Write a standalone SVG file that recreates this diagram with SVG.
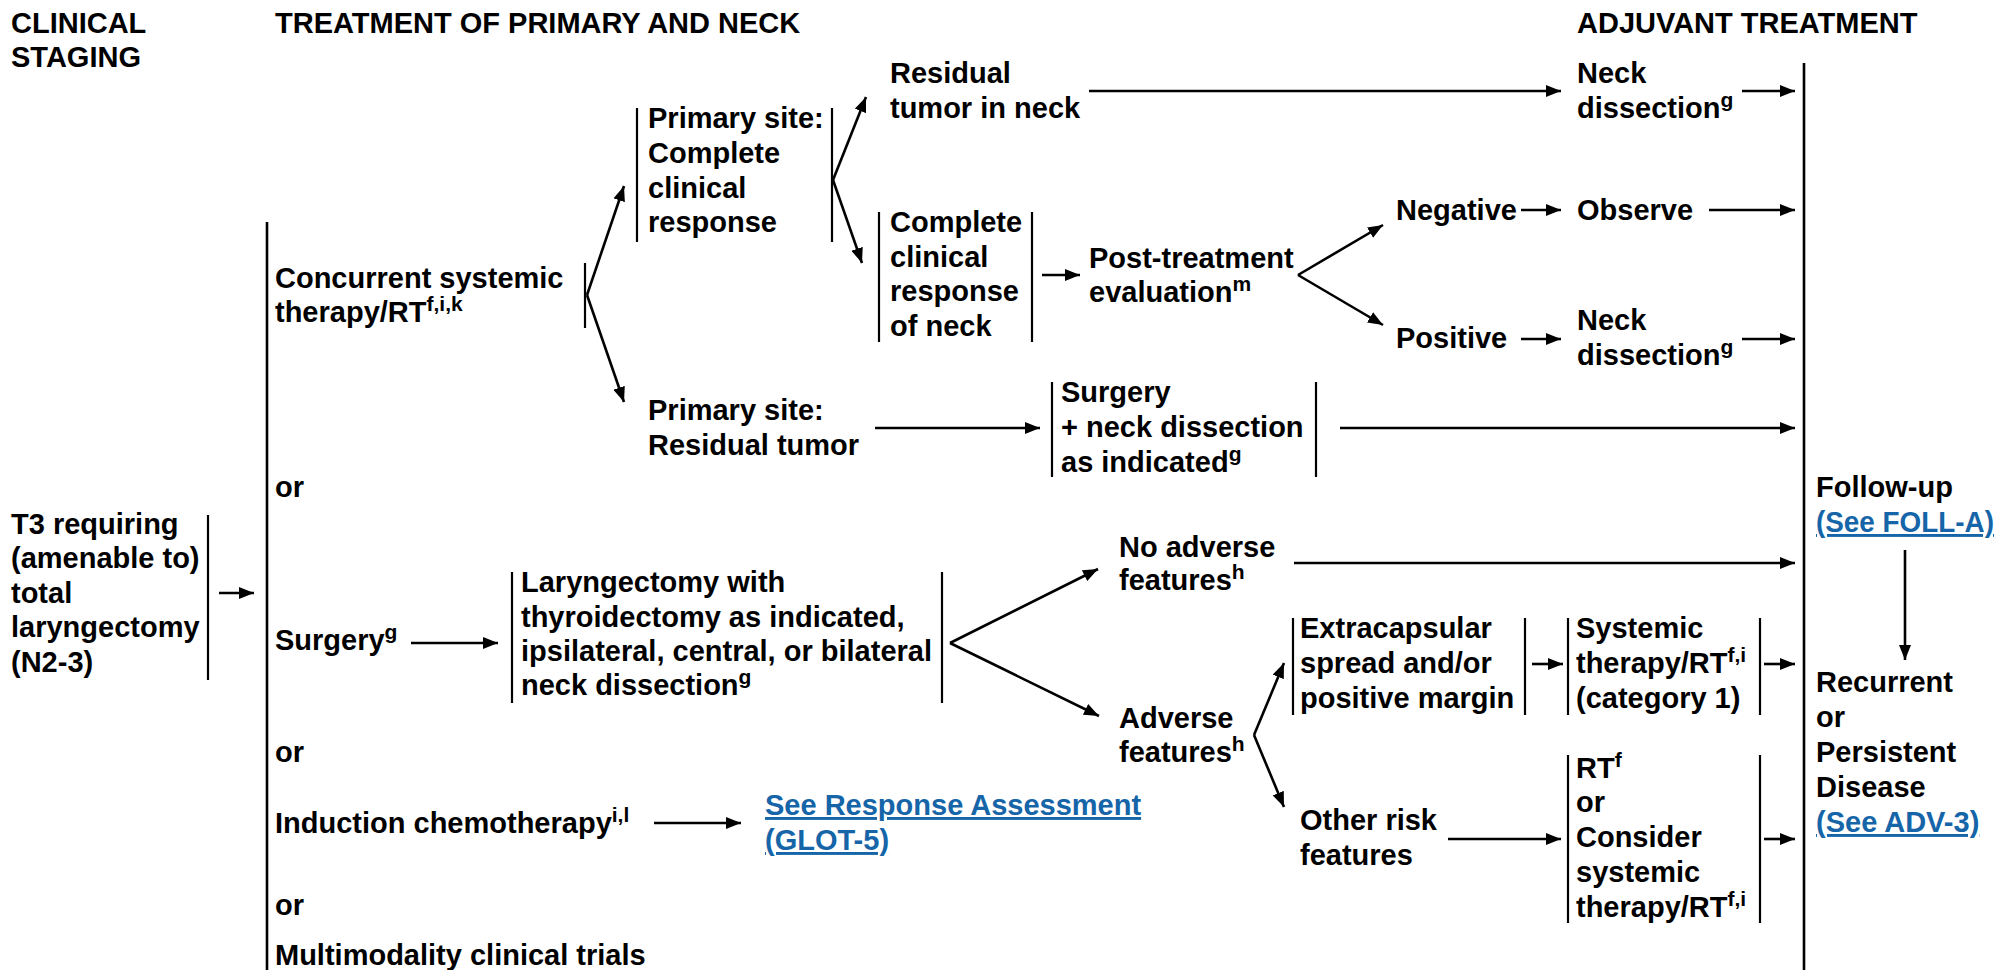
<svg xmlns="http://www.w3.org/2000/svg" width="1999" height="970" viewBox="0 0 1999 970">
  <style>
    text { font-family: "Liberation Sans", Arial, Helvetica, sans-serif; font-weight: bold; font-size: 29px; fill: #000; }
    .sup { font-size: 21px; }
    .link { fill: #1565a8; text-decoration: underline; }
    .bar { stroke: #000; stroke-width: 2.2; fill: none; }
    .trunk { stroke: #000; stroke-width: 2.6; fill: none; }
    .conn line, .conn path { stroke: #000; stroke-width: 2.6; fill: none; }
    .arr { marker-end: url(#head); }
  </style>
  <defs>
    <marker id="head" markerUnits="userSpaceOnUse" markerWidth="16" markerHeight="12" refX="15" refY="6" orient="auto">
      <path d="M0,0 L15,6 L0,12 z" fill="#000"/>
    </marker>
  </defs>

  <!-- column headings -->
  <g id="headings">
    <text x="11" y="33">CLINICAL</text>
    <text x="11" y="67">STAGING</text>
    <text x="275" y="33">TREATMENT OF PRIMARY AND NECK</text>
    <text x="1577" y="33">ADJUVANT TREATMENT</text>
  </g>

  <!-- staging -->
  <g id="t3">
    <text x="11" y="534">T3 requiring</text>
    <text x="11" y="568">(amenable to)</text>
    <text x="11" y="603">total</text>
    <text x="11" y="637">laryngectomy</text>
    <text x="11" y="672">(N2-3)</text>
    <line class="bar" x1="208" y1="515" x2="208" y2="680"/>
  </g>

  <!-- treatment options -->
  <g id="options">
    <line class="trunk" x1="267" y1="222" x2="267" y2="970"/>
    <text x="275" y="497">or</text>
    <text x="275" y="762">or</text>
    <text x="275" y="915">or</text>
    <text x="275" y="965">Multimodality clinical trials</text>
  </g>

  <g id="concurrent">
    <text x="275" y="288">Concurrent systemic</text>
    <text x="275" y="322">therapy/RT<tspan class="sup" dy="-11">f,i,k</tspan></text>
    <line class="bar" x1="585" y1="263" x2="585" y2="328"/>
  </g>

  <g id="surgery">
    <text x="275" y="650">Surgery<tspan class="sup" dy="-11">g</tspan></text>
  </g>

  <g id="induction">
    <text x="275" y="833">Induction chemotherapy<tspan class="sup" dy="-11">i,l</tspan></text>
  </g>

  <g id="primary-cr">
    <line class="bar" x1="637" y1="108" x2="637" y2="242"/>
    <text x="648" y="128">Primary site:</text>
    <text x="648" y="163">Complete</text>
    <text x="648" y="198">clinical</text>
    <text x="648" y="232">response</text>
    <line class="bar" x1="832" y1="108" x2="832" y2="242"/>
  </g>

  <g id="residual-neck">
    <text x="890" y="83">Residual</text>
    <text x="890" y="118">tumor in neck</text>
  </g>

  <g id="neck-dissection-1">
    <text x="1577" y="83">Neck</text>
    <text x="1577" y="118">dissection<tspan class="sup" dy="-11">g</tspan></text>
  </g>

  <g id="neck-cr">
    <line class="bar" x1="879" y1="212" x2="879" y2="342"/>
    <text x="890" y="232">Complete</text>
    <text x="890" y="267">clinical</text>
    <text x="890" y="301">response</text>
    <text x="890" y="336">of neck</text>
    <line class="bar" x1="1032" y1="212" x2="1032" y2="342"/>
  </g>

  <g id="post-treatment">
    <text x="1089" y="268">Post-treatment</text>
    <text x="1089" y="302">evaluation<tspan class="sup" dy="-11">m</tspan></text>
  </g>

  <g id="negative"><text x="1396" y="220">Negative</text></g>
  <g id="observe"><text x="1577" y="220">Observe</text></g>
  <g id="positive"><text x="1396" y="348">Positive</text></g>
  <g id="neck-dissection-2">
    <text x="1577" y="330">Neck</text>
    <text x="1577" y="365">dissection<tspan class="sup" dy="-11">g</tspan></text>
  </g>

  <g id="primary-residual">
    <text x="648" y="420">Primary site:</text>
    <text x="648" y="455">Residual tumor</text>
  </g>

  <g id="salvage-surgery">
    <line class="bar" x1="1052" y1="382" x2="1052" y2="477"/>
    <text x="1061" y="402">Surgery</text>
    <text x="1061" y="437">+ neck dissection</text>
    <text x="1061" y="472">as indicated<tspan class="sup" dy="-11">g</tspan></text>
    <line class="bar" x1="1316" y1="382" x2="1316" y2="477"/>
  </g>

  <g id="laryngectomy">
    <line class="bar" x1="512" y1="572" x2="512" y2="703"/>
    <text x="521" y="592">Laryngectomy with</text>
    <text x="521" y="627">thyroidectomy as indicated,</text>
    <text x="521" y="661">ipsilateral, central, or bilateral</text>
    <text x="521" y="695">neck dissection<tspan class="sup" dy="-11">g</tspan></text>
    <line class="bar" x1="942" y1="572" x2="942" y2="703"/>
  </g>

  <g id="no-adverse">
    <text x="1119" y="557">No adverse</text>
    <text x="1119" y="590">features<tspan class="sup" dy="-11">h</tspan></text>
  </g>

  <g id="adverse">
    <text x="1119" y="728">Adverse</text>
    <text x="1119" y="762">features<tspan class="sup" dy="-11">h</tspan></text>
  </g>

  <g id="extracapsular">
    <line class="bar" x1="1293" y1="618" x2="1293" y2="715"/>
    <text x="1300" y="638">Extracapsular</text>
    <text x="1300" y="673">spread and/or</text>
    <text x="1300" y="708">positive margin</text>
    <line class="bar" x1="1525" y1="618" x2="1525" y2="715"/>
  </g>

  <g id="systemic-rt">
    <line class="bar" x1="1568" y1="618" x2="1568" y2="715"/>
    <text x="1576" y="638">Systemic</text>
    <text x="1576" y="673">therapy/RT<tspan class="sup" dy="-11">f,i</tspan></text>
    <text x="1576" y="708">(category 1)</text>
    <line class="bar" x1="1760" y1="618" x2="1760" y2="715"/>
  </g>

  <g id="other-risk">
    <text x="1300" y="830">Other risk</text>
    <text x="1300" y="865">features</text>
  </g>

  <g id="rt-or-systemic">
    <line class="bar" x1="1568" y1="755" x2="1568" y2="923"/>
    <text x="1576" y="778">RT<tspan class="sup" dy="-11">f</tspan></text>
    <text x="1576" y="812">or</text>
    <text x="1576" y="847">Consider</text>
    <text x="1576" y="882">systemic</text>
    <text x="1576" y="917">therapy/RT<tspan class="sup" dy="-11">f,i</tspan></text>
    <line class="bar" x1="1760" y1="755" x2="1760" y2="923"/>
  </g>

  <g id="response-assessment">
    <text class="link" x="765" y="815">See Response Assessment</text>
    <text class="link" x="765" y="850">(GLOT-5)</text>
  </g>

  <g id="follow-up">
    <line class="trunk" x1="1804" y1="63" x2="1804" y2="970"/>
    <text x="1816" y="497">Follow-up</text>
    <text class="link" x="1816" y="532" textLength="178" lengthAdjust="spacingAndGlyphs">(See FOLL-A)</text>
  </g>

  <g id="recurrent">
    <text x="1816" y="692">Recurrent</text>
    <text x="1816" y="727">or</text>
    <text x="1816" y="762">Persistent</text>
    <text x="1816" y="797">Disease</text>
    <text class="link" x="1816" y="832">(See ADV-3)</text>
  </g>

  <!-- connectors -->
  <g id="connectors" class="conn">
    <line class="arr" x1="219" y1="593" x2="254" y2="593"/>
    <line class="arr" x1="587" y1="295" x2="624" y2="186"/>
    <line class="arr" x1="587" y1="295" x2="624" y2="402"/>
    <line class="arr" x1="833" y1="180" x2="866" y2="97"/>
    <line class="arr" x1="833" y1="180" x2="862" y2="263"/>
    <line class="arr" x1="1089" y1="91" x2="1561" y2="91"/>
    <line class="arr" x1="1742" y1="91" x2="1795" y2="91"/>
    <line class="arr" x1="1042" y1="275" x2="1080" y2="275"/>
    <line class="arr" x1="1298" y1="275" x2="1383" y2="225"/>
    <line class="arr" x1="1298" y1="275" x2="1383" y2="325"/>
    <line class="arr" x1="1521" y1="210" x2="1561" y2="210"/>
    <line class="arr" x1="1709" y1="210" x2="1795" y2="210"/>
    <line class="arr" x1="1521" y1="339" x2="1561" y2="339"/>
    <line class="arr" x1="1742" y1="339" x2="1795" y2="339"/>
    <line class="arr" x1="875" y1="428" x2="1040" y2="428"/>
    <line class="arr" x1="1340" y1="428" x2="1795" y2="428"/>
    <line class="arr" x1="411" y1="643" x2="498" y2="643"/>
    <line class="arr" x1="950" y1="643" x2="1098" y2="569"/>
    <line class="arr" x1="950" y1="643" x2="1099" y2="716"/>
    <line class="arr" x1="1294" y1="563" x2="1795" y2="563"/>
    <line class="arr" x1="1254" y1="735" x2="1284" y2="663"/>
    <line class="arr" x1="1254" y1="735" x2="1284" y2="807"/>
    <line class="arr" x1="1532" y1="664" x2="1563" y2="664"/>
    <line class="arr" x1="1764" y1="664" x2="1795" y2="664"/>
    <line class="arr" x1="1448" y1="839" x2="1561" y2="839"/>
    <line class="arr" x1="1764" y1="839" x2="1795" y2="839"/>
    <line class="arr" x1="654" y1="823" x2="741" y2="823"/>
    <line class="arr" x1="1905" y1="550" x2="1905" y2="660"/>
  </g>
</svg>
